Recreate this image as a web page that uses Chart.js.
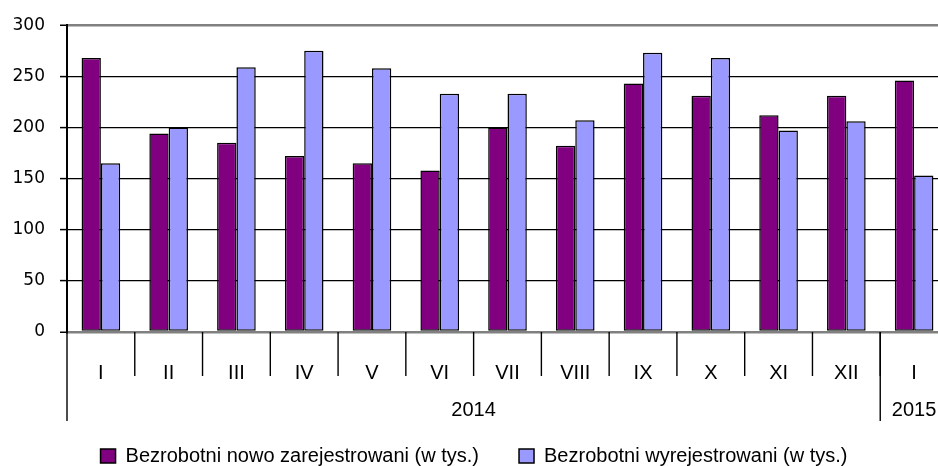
<!DOCTYPE html>
<html>
<head>
<meta charset="utf-8">
<script src="https://cdn.jsdelivr.net/npm/chart.js@4"></script>
<style>
  html, body { margin: 0; padding: 0; overflow: hidden; background: #fff; width: 938px; height: 466px; }
  #wrap { position: absolute; left: -15px; top: 0; width: 963px; height: 476px; }
</style>
</head>
<body>
<div id="wrap"><canvas id="chart"></canvas></div>
<script>
// month categories, then the year row under them
const months = ['I', 'II', 'III', 'IV', 'V', 'VI', 'VII', 'VIII', 'IX', 'X', 'XI', 'XII', 'I'];
const years = ['2014', '2015'];
const yearSpans = [12, 1];

// values in thousands
const newlyRegistered = [268, 194, 185, 172, 165, 158, 200, 182, 243, 231, 212, 231, 246];
const deregistered = [165, 200, 259, 275, 258, 233, 233, 207, 273, 268, 197, 206, 153];

const yMin = 0;
const yMax = 300;
const yStep = 50;

const labelFont = "'Liberation Sans', Arial, sans-serif";

// draws the separators and the year labels under the month row
const yearAxis = {
    id: 'yearAxis',
    afterDraw(chart) {
        const ctx = chart.ctx;
        const x = chart.scales.x;
        const step = x.width / months.length;
        const edge = i => i < months.length ? x.getPixelForValue(i) - step / 2 : x.getPixelForValue(i - 1) + step / 2;

        ctx.save();
        ctx.strokeStyle = '#000';
        ctx.lineWidth = 1.4;

        // short lines between months
        for (let i = 1; i < months.length; i++) {
            ctx.beginPath();
            ctx.moveTo(edge(i), x.top);
            ctx.lineTo(edge(i), x.top + 44);
            ctx.stroke();
        }

        // long lines between years + year labels
        ctx.fillStyle = '#000';
        ctx.font = '20px ' + labelFont;
        ctx.textAlign = 'center';
        ctx.textBaseline = 'middle';
        let start = 0;
        years.forEach((year, k) => {
            const left = edge(start);
            const right = edge(start + yearSpans[k]);
            ctx.beginPath();
            ctx.moveTo(left, x.top);
            ctx.lineTo(left, x.top + 89);
            ctx.stroke();
            ctx.fillText(year, (left + right) / 2, x.top + 78);
            start += yearSpans[k];
        });
        ctx.restore();
    }
};

new Chart(document.getElementById('chart').getContext('2d'), {
    type: 'bar',
    data: {
        labels: months,
        datasets: [{
            label: 'Bezrobotni nowo zarejestrowani (w tys.)',
            data: newlyRegistered,
            backgroundColor: '#800080',
            borderColor: '#000',
            borderWidth: 1.5,
            borderSkipped: false
        }, {
            label: 'Bezrobotni wyrejestrowani (w tys.)',
            data: deregistered,
            backgroundColor: '#9999FF',
            borderColor: '#000',
            borderWidth: 1.5,
            borderSkipped: false
        }]
    },
    options: {
        responsive: true,
        maintainAspectRatio: false,
        animation: false,
        layout: {
            padding: { top: 19, left: 15, right: 0, bottom: 0 }
        },
        datasets: {
            bar: {
                categoryPercentage: 0.57,
                barPercentage: 1.0
            }
        },
        scales: {
            x: {
                grid: { display: false },
                border: { display: false },
                ticks: {
                    color: '#000',
                    font: { family: labelFont, size: 20 },
                    padding: 21,
                    maxRotation: 0,
                    autoSkip: false
                },
                afterFit(scale) {
                    scale.height = 74;
                }
            },
            y: {
                min: yMin,
                max: yMax,
                ticks: {
                    stepSize: yStep,
                    color: '#000',
                    font: { family: "'DejaVu Sans', Verdana, sans-serif", size: 17 },
                    padding: 15
                },
                grid: {
                    color: c => (c.tick.value === yMin || c.tick.value === yMax) ? '#808080' : '#000',
                    lineWidth: c => (c.tick.value === yMin || c.tick.value === yMax) ? 2.5 : 1.2,
                    tickLength: 7,
                    tickColor: '#000',
                    tickWidth: 1.5
                },
                border: { display: true, color: '#000', width: 2 },
                afterFit(scale) {
                    scale.width = 67;
                }
            }
        },
        plugins: {
            legend: {
                position: 'bottom',
                labels: {
                    boxWidth: 15,
                    boxHeight: 14,
                    padding: 40,
                    color: '#000',
                    font: { family: labelFont, size: 20 }
                }
            },
            tooltip: { enabled: false }
        }
    },
    plugins: [yearAxis]
});
</script>
</body>
</html>
